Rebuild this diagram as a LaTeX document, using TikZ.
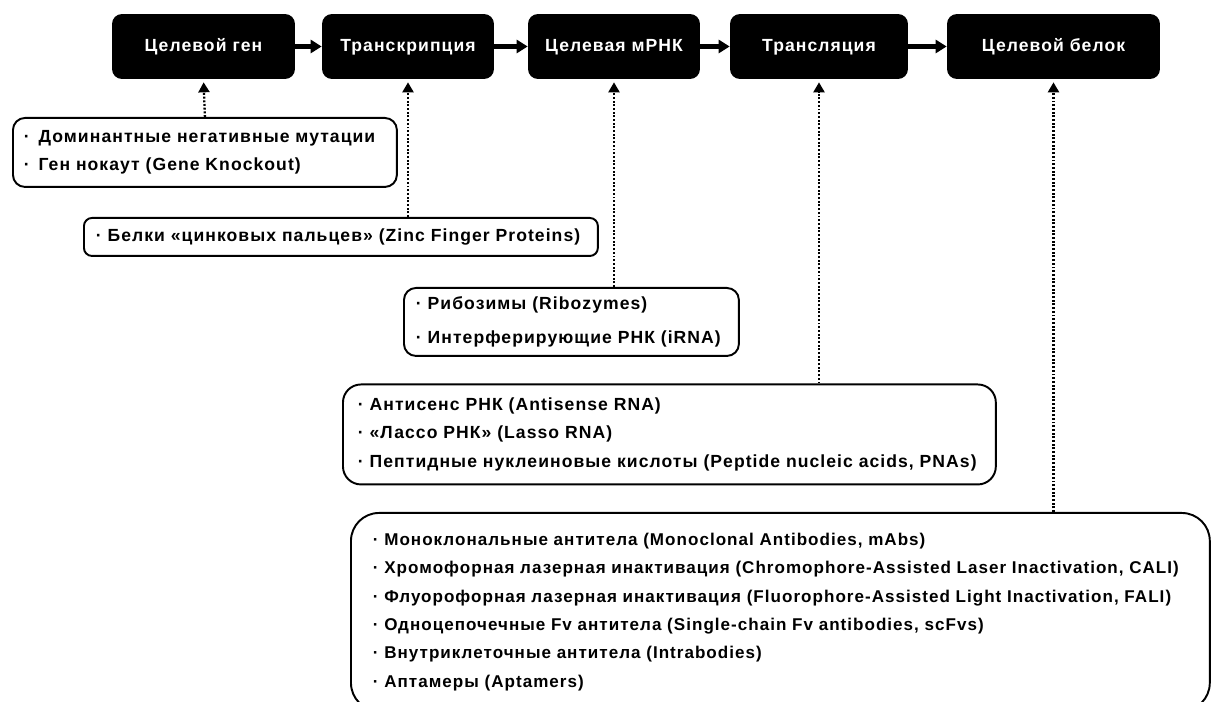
\documentclass[tikz,border=0pt]{standalone}
\usepackage{fontspec}
\setmainfont{Liberation Sans}[LetterSpace=6]
\usetikzlibrary{positioning,arrows.meta}

\tikzstyle{stage} = [fill=black, text=white, rounded corners=0.2cm,
  minimum height=1.3cm, inner sep=0pt, text height=0.72em, text depth=0.1em]
\tikzstyle{method} = [draw=black, line width=1.1pt, fill=white,
  align=left, anchor=north west, inner ysep=0pt]
\tikzstyle{flow} = [-{Triangle[length=0.22cm,width=0.26cm]}, line width=2.6pt]
\tikzstyle{link} = [-{Triangle[length=0.2cm,width=0.22cm]}, line width=1.3pt,
  dash pattern=on 1.1pt off 1pt, shorten >=0.06cm]

\begin{document}
\begin{tikzpicture}[x=0.02cm, y=-0.02cm,
    font=\fontsize{10}{16}\selectfont\bfseries]
        \useasboundingbox (0,0) rectangle (1211,702);

        \node [stage, minimum width=3.66cm] (gene)    at ( 203.5,46.5) {Целевой ген};
        \node [stage, minimum width=3.44cm] (transcr) at ( 408.0,46.5) {Транскрипция};
        \node [stage, minimum width=3.44cm] (mrna)    at ( 614.0,46.5) {Целевая мРНК};
        \node [stage, minimum width=3.56cm] (transl)  at ( 819.0,46.5) {Трансляция};
        \node [stage, minimum width=4.26cm] (protein) at (1053.5,46.5) {Целевой белок};

        \node [method, rounded corners=0.24cm, inner xsep=0.22cm, text width=7.24cm,
          minimum height=1.38cm] (genemut) at (12,117)
          {·\enspace Доминантные негативные мутации\\
           ·\enspace Ген нокаут (Gene Knockout)};
        \node [method, rounded corners=0.16cm, inner xsep=0.24cm, text width=9.8cm,
          minimum height=0.76cm] (zinc) at (83,217)
          {· Белки «цинковых пальцев» (Zinc Finger Proteins)};
        \node [method, rounded corners=0.24cm, inner xsep=0.24cm, text width=6.22cm,
          minimum height=1.36cm] (ribo) at (403,287)
          {· Рибозимы (Ribozymes)\\[3pt]
           · Интерферирующие РНК (iRNA)};
        \node [method, rounded corners=0.36cm, inner xsep=0.3cm, text width=12.46cm,
          minimum height=2cm, yshift=-0.03cm] (anti) at (342,382)
          {· Антисенс РНК (Antisense RNA)\\
           · «Лассо РНК» (Lasso RNA)\\
           · Пептидные нуклеиновые кислоты (Peptide nucleic acids, PNAs)};
        \node [method, rounded corners=0.56cm, inner xsep=0.44cm, text width=16.3cm,
          minimum height=3.96cm, font=\fontsize{9.7}{16.1}\selectfont\bfseries]
          (antib) at (350,512)
          {· Моноклональные антитела (Monoclonal Antibodies, mAbs)\\
           \mbox{· Хромофорная лазерная инактивация (Chromophore-Assisted Laser Inactivation, CALI)}\\
           \mbox{· Флуорофорная лазерная инактивация (Fluorophore-Assisted Light Inactivation, FALI)}\\
           · Одноцепочечные Fv антитела (Single-chain Fv antibodies, scFvs)\\
           · Внутриклеточные антитела (Intrabodies)\\
           · Аптамеры (Aptamers)};

        \draw [flow] (gene) -- (transcr);
        \draw [flow] (transcr) -- (mrna);
        \draw [flow] (mrna) -- (transl);
        \draw [flow] (transl) -- (protein);

        \draw [link] (genemut.north) -- (gene.south);
        \draw [link] (transcr.south |- zinc.north) -- (transcr.south);
        \draw [link] (mrna.south |- ribo.north) -- (mrna.south);
        \draw [link] (transl.south |- anti.north) -- (transl.south);
        \draw [link] (protein.south |- antib.north) -- (protein.south);
      \end{tikzpicture}
\end{document}
